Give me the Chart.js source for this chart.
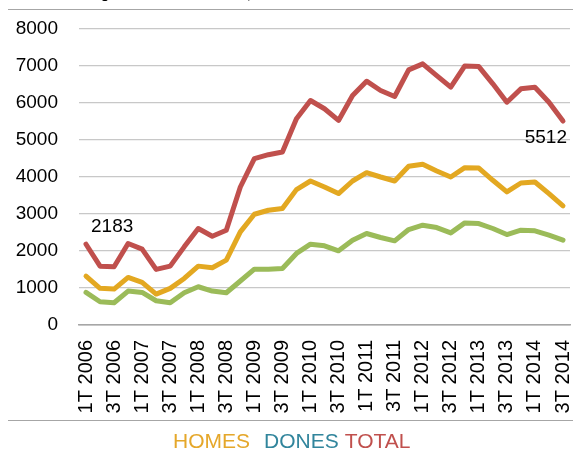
<!DOCTYPE html>
<html>
<head>
<meta charset="utf-8">
<script src="https://cdn.jsdelivr.net/npm/chart.js@4.4.1/dist/chart.umd.min.js"></script>
<style>
  html, body { margin: 0; padding: 0; background: #fff; overflow: hidden; }
  #wrap { position: absolute; left: 0; top: 0; width: 573px; height: 450px; }
  #title { position: absolute; left: 26px; top: -14px; font: bold 14px "Liberation Sans", Arial, sans-serif; line-height: 14px; color: #000; white-space: nowrap; }
  .rule { position: absolute; left: 8px; right: 0; height: 1px; background: #a6a6a6; }
  #legend { position: absolute; left: 173px; top: 430px; display: flex; font: 21px "Liberation Sans", Arial, sans-serif; line-height: 21px; white-space: nowrap; }
  #legend span:nth-child(1) { margin-right: 14px; }
  #legend span:nth-child(2) { margin-right: 6px; }
</style>
</head>
<body>
<div id="wrap"><canvas id="c" width="573" height="450"></canvas></div>
<div id="title">Atur estranger a Barcelona ciutat, 2006-2014</div>
<div class="rule" style="top:9px"></div>
<div class="rule" style="top:420px"></div>
<div id="legend"></div>
<script>
const categories = ["1T 2006","2T 2006","3T 2006","4T 2006","1T 2007","2T 2007","3T 2007","4T 2007",
  "1T 2008","2T 2008","3T 2008","4T 2008","1T 2009","2T 2009","3T 2009","4T 2009",
  "1T 2010","2T 2010","3T 2010","4T 2010","1T 2011","2T 2011","3T 2011","4T 2011",
  "1T 2012","2T 2012","3T 2012","4T 2012","1T 2013","2T 2013","3T 2013","4T 2013",
  "1T 2014","2T 2014","3T 2014"];
const total = [2183,1591,1573,2203,2050,1502,1591,2112,2608,2400,2562,
  3730,4495,4603,4674,5574,6068,5844,5529,6203,6589,6338,6176,
  6896,7058,6742,6427,7001,6985,6518,6022,6383,6427,6022,5512];
const homes = [1321,990,971,1286,1151,836,990,1259,1591,1546,1753,
  2517,2994,3101,3146,3659,3892,3730,3552,3892,4118,4000,3892,
  4288,4342,4162,4000,4253,4243,3911,3596,3838,3865,3552,3218];
const dones = [881,629,602,917,881,656,602,872,1034,917,872,
  1190,1510,1510,1529,1934,2184,2139,2004,2292,2473,2365,2274,
  2580,2697,2634,2490,2760,2742,2608,2445,2562,2544,2427,2292];
const yTicks = [0,1000,2000,3000,4000,5000,6000,7000,8000];
const legendNames = ["HOMES","DONES","TOTAL"];
const legendColors = ["#E5A72A","#31859C","#C0504D"];
const labelledPoints = [0, 34];

const FONT = "'Liberation Sans', Arial, sans-serif";

document.getElementById('legend').innerHTML = legendNames.map((n,i)=>
  '<span style="color:'+legendColors[i]+'">'+n+'</span>').join('');

const dataLabels = {
  id: 'dataLabels',
  afterDatasetsDraw(chart) {
    const meta = chart.getDatasetMeta(0);
    const ctx = chart.ctx;
    ctx.save();
    ctx.font = "19px " + FONT;
    ctx.fillStyle = "#000";
    ctx.textBaseline = "middle";
    labelledPoints.forEach((idx, k) => {
      const el = meta.data[idx];
      const txt = String(total[idx]);
      if (k === 0) { ctx.textAlign = "left"; ctx.fillText(txt, el.x + 5, el.y - 17); }
      else { ctx.textAlign = "right"; ctx.fillText(txt, el.x + 4, el.y + 17); }
    });
    ctx.restore();
  }
};

new Chart(document.getElementById('c'), {
  type: 'line',
  data: {
    labels: categories,
    datasets: [
      { label: 'TOTAL', data: total, borderColor: '#C0504D' },
      { label: 'HOMES', data: homes, borderColor: '#E3A821' },
      { label: 'DONES', data: dones, borderColor: '#9BBB59' }
    ]
  },
  options: {
    responsive: true,
    maintainAspectRatio: false,
    animation: false,
    layout: { padding: { top: 29, right: 3, bottom: 30, left: 0 } },
    elements: {
      line: { borderWidth: 5, tension: 0, borderJoinStyle: 'round', borderCapStyle: 'round', fill: false },
      point: { radius: 0, hoverRadius: 0 }
    },
    plugins: { legend: { display: false }, tooltip: { enabled: false } },
    scales: {
      x: {
        offset: true,
        grid: { display: false, drawTicks: false },
        border: { display: true, color: '#a6a6a6', width: 1.5 },
        ticks: {
          autoSkip: false, minRotation: 90, maxRotation: 90, padding: 15,
          color: '#000', font: { family: FONT, size: 20 },
          callback: function(v, i) { return i % 2 === 0 ? categories[i] : ''; }
        },
        afterFit: function(s) { s.height = 95; s.paddingLeft = 0; s.paddingRight = 0; }
      },
      y: {
        min: 0, max: 8000,
        afterBuildTicks: function(s) { s.ticks = yTicks.map(v => ({ value: v })); },
        grid: { color: function(c){ return c.tick && c.tick.value === 0 ? '#a6a6a6' : '#c8c8c8'; }, lineWidth: 1.2, drawTicks: false },
        border: { display: false },
        ticks: { padding: 21, color: '#000', font: { family: FONT, size: 19 },
          callback: function(v) { return String(v); } },
        afterFit: function(s) { s.width = 79; s.paddingTop = 0; s.paddingBottom = 0; }
      }
    }
  },
  plugins: [dataLabels]
});
</script>
</body>
</html>
